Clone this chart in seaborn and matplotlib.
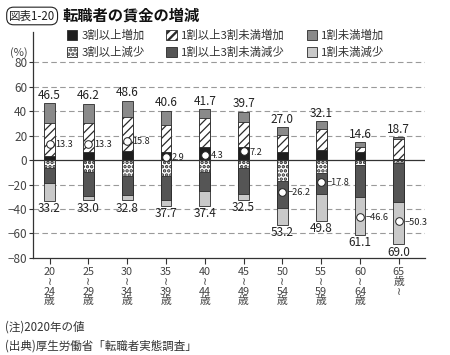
import matplotlib
matplotlib.use("Agg")
import matplotlib.pyplot as plt
from matplotlib.patches import Patch
import seaborn as sns
import pandas as pd
import numpy as np

# data (%)
ages = ["20-24", "25-29", "30-34", "35-39", "40-44", "45-49", "50-54", "55-59", "60-64", "65-"]
age_ticks = ["20\n≀\n24\n歳", "25\n≀\n29\n歳", "30\n≀\n34\n歳", "35\n≀\n39\n歳", "40\n≀\n44\n歳",
             "45\n≀\n49\n歳", "50\n≀\n54\n歳", "55\n≀\n59\n歳", "60\n≀\n64\n歳", "65\n歳\n≀\n "]
up_total = [46.5, 46.2, 48.6, 40.6, 41.7, 39.7, 27.0, 32.1, 14.6, 18.7]
down_total = [33.2, 33.0, 32.8, 37.7, 37.4, 32.5, 53.2, 49.8, 61.1, 69.0]
inc_30 = [3.5, 6.8, 7.7, 6.8, 10.4, 10.4, 6.8, 8.2, 6.8, 0.6]
inc_10_30 = [26.7, 23.9, 27.4, 22.0, 23.9, 20.6, 13.8, 17.0, 3.6, 16.4]
inc_lt10 = [16.3, 15.5, 13.5, 11.8, 7.4, 8.7, 6.4, 6.9, 4.2, 1.7]
dec_30 = [6.8, 9.6, 12.9, 12.9, 10.1, 6.8, 17.4, 10.9, 4.1, 2.2]
dec_10_30 = [11.8, 20.0, 15.9, 19.4, 15.1, 20.6, 21.5, 17.1, 26.1, 32.1]
dec_lt10 = [14.6, 3.4, 4.0, 5.4, 12.2, 5.1, 14.3, 21.8, 30.9, 34.7]
net = [13.3, 13.3, 15.8, 2.9, 4.3, 7.2, -26.2, -17.8, -46.6, -50.3]

sns.set_theme(style="white")
plt.rcParams['font.family'] = ['Noto Sans CJK JP', 'DejaVu Sans']
plt.rcParams['hatch.linewidth'] = 0.9

df = pd.DataFrame({"age": ages})
df["inc1"] = inc_30
df["inc2"] = np.array(inc_30) + np.array(inc_10_30)
df["inc3"] = df["inc2"] + np.array(inc_lt10)
df["dec1"] = -np.array(dec_30)
df["dec2"] = df["dec1"] - np.array(dec_10_30)
df["dec3"] = df["dec2"] - np.array(dec_lt10)
df["net"] = net

fig = plt.figure(figsize=(4.5, 3.55), dpi=100)
ax = fig.add_axes([0.073, 0.274, 0.871, 0.636])

c_black = "#1e1e1e"
c_mid = "#8a8a8a"
c_dark = "#555555"
c_light = "#c9c9c9"
edge = "#2a2a2a"
w = 0.28
dots = "...."
dot_lw = 1.7

# gridlines behind bars
for v in [-60, -40, -20, 20, 40, 60, 80]:
    ax.axhline(v, color="#9a9a9a", lw=0.8, ls=(0, (5, 3)), zorder=0)
ax.axhline(0, color="#333333", lw=0.9, zorder=3)

# stacked by overlaying cumulative bars
layers = [("inc3", c_mid, None, 0.9), ("inc2", "white", "////", 0.9), ("inc1", c_black, None, 0.9),
          ("dec3", c_light, None, 0.9), ("dec2", c_dark, None, 0.9), ("dec1", "white", dots, dot_lw)]
for col, fc, hatch, hlw in layers:
    with plt.rc_context({"hatch.linewidth": hlw}):
        sns.barplot(data=df, x="age", y=col, color=fc, saturation=1, width=w,
                    edgecolor=edge, linewidth=0.6, hatch=hatch, ax=ax, zorder=2)

sns.scatterplot(data=df, x="age", y="net", s=30, color="white", edgecolor="#222222",
                linewidth=0.7, ax=ax, zorder=5)

for i in range(len(ages)):
    ax.annotate(f"{up_total[i]:.1f}", (i, up_total[i]), xytext=(0, 1), textcoords="offset points",
                ha="center", va="bottom", fontsize=8.5, color="#222222")
    ax.annotate(f"{down_total[i]:.1f}", (i, -down_total[i]), xytext=(0, -1), textcoords="offset points",
                ha="center", va="top", fontsize=8.5, color="#222222")
    lab = f"{net[i]:.1f}".replace("-", "−")
    ax.annotate(lab, (i, net[i]), xytext=(4, -0.5), textcoords="offset points",
                ha="left", va="center", fontsize=6.6, color="#222222")

ax.set_xlim(-0.43, 9.67)
ax.set_ylim(-80, 105)
ax.set_yticks(range(-80, 81, 20))
ax.set_xticks(range(len(ages)))
ax.set_xticklabels(age_ticks, fontsize=7.8, color="#444444", linespacing=0.95, va="top")
ax.tick_params(axis="y", labelsize=8.5, labelcolor="#444444", length=3, width=0.8, color="#333333", left=True, pad=1)
ax.tick_params(axis="x", length=4, width=0.8, color="#333333", bottom=True, pad=3)
ax.set_xlabel("")
ax.set_ylabel("")
for s in ["top", "right"]:
    ax.spines[s].set_visible(False)
for s in ["left", "bottom"]:
    ax.spines[s].set_color("#333333")
    ax.spines[s].set_linewidth(0.9)

handles = [
    Patch(facecolor=c_black, edgecolor=edge, lw=0.6, label="3割以上増加"),
    Patch(facecolor="white", edgecolor=edge, lw=0.6, hatch=dots, label="3割以上減少"),
    Patch(facecolor="white", edgecolor=edge, lw=0.6, hatch="////", label="1割以上3割未満増加"),
    Patch(facecolor=c_dark, edgecolor=edge, lw=0.6, label="1割以上3割未満減少"),
    Patch(facecolor=c_mid, edgecolor=edge, lw=0.6, label="1割未満増加"),
    Patch(facecolor=c_light, edgecolor=edge, lw=0.6, label="1割未満減少"),
]
with plt.rc_context({"hatch.linewidth": dot_lw}):
    ax.legend(handles=handles, ncol=3, loc="upper left", bbox_to_anchor=(0.06, 1.055), frameon=False,
              fontsize=8.2, handlelength=0.9, handleheight=0.9, handletextpad=0.4, columnspacing=1.9,
              labelspacing=0.5, labelcolor="#333333")

fig.text(0.022, 0.853, "(%)", fontsize=8, color="#444444", ha="left", va="center")
fig.text(0.02, 0.955, "図表1-20", fontsize=8.3, color="#222222", ha="left", va="center",
         bbox=dict(boxstyle="round,pad=0.2,rounding_size=0.6", fc="white", ec="#222222", lw=0.8))
fig.text(0.138, 0.955, "転職者の賃金の増減", fontsize=11, fontweight="bold", color="#111111",
         ha="left", va="center")
fig.text(0.012, 0.078, "(注)2020年の値", fontsize=8.3, color="#333333", ha="left", va="center")
fig.text(0.012, 0.025, "(出典)厚生労働省「転職者実態調査」", fontsize=8.3, color="#333333", ha="left", va="center")

fig.savefig("out.png", dpi=100)
